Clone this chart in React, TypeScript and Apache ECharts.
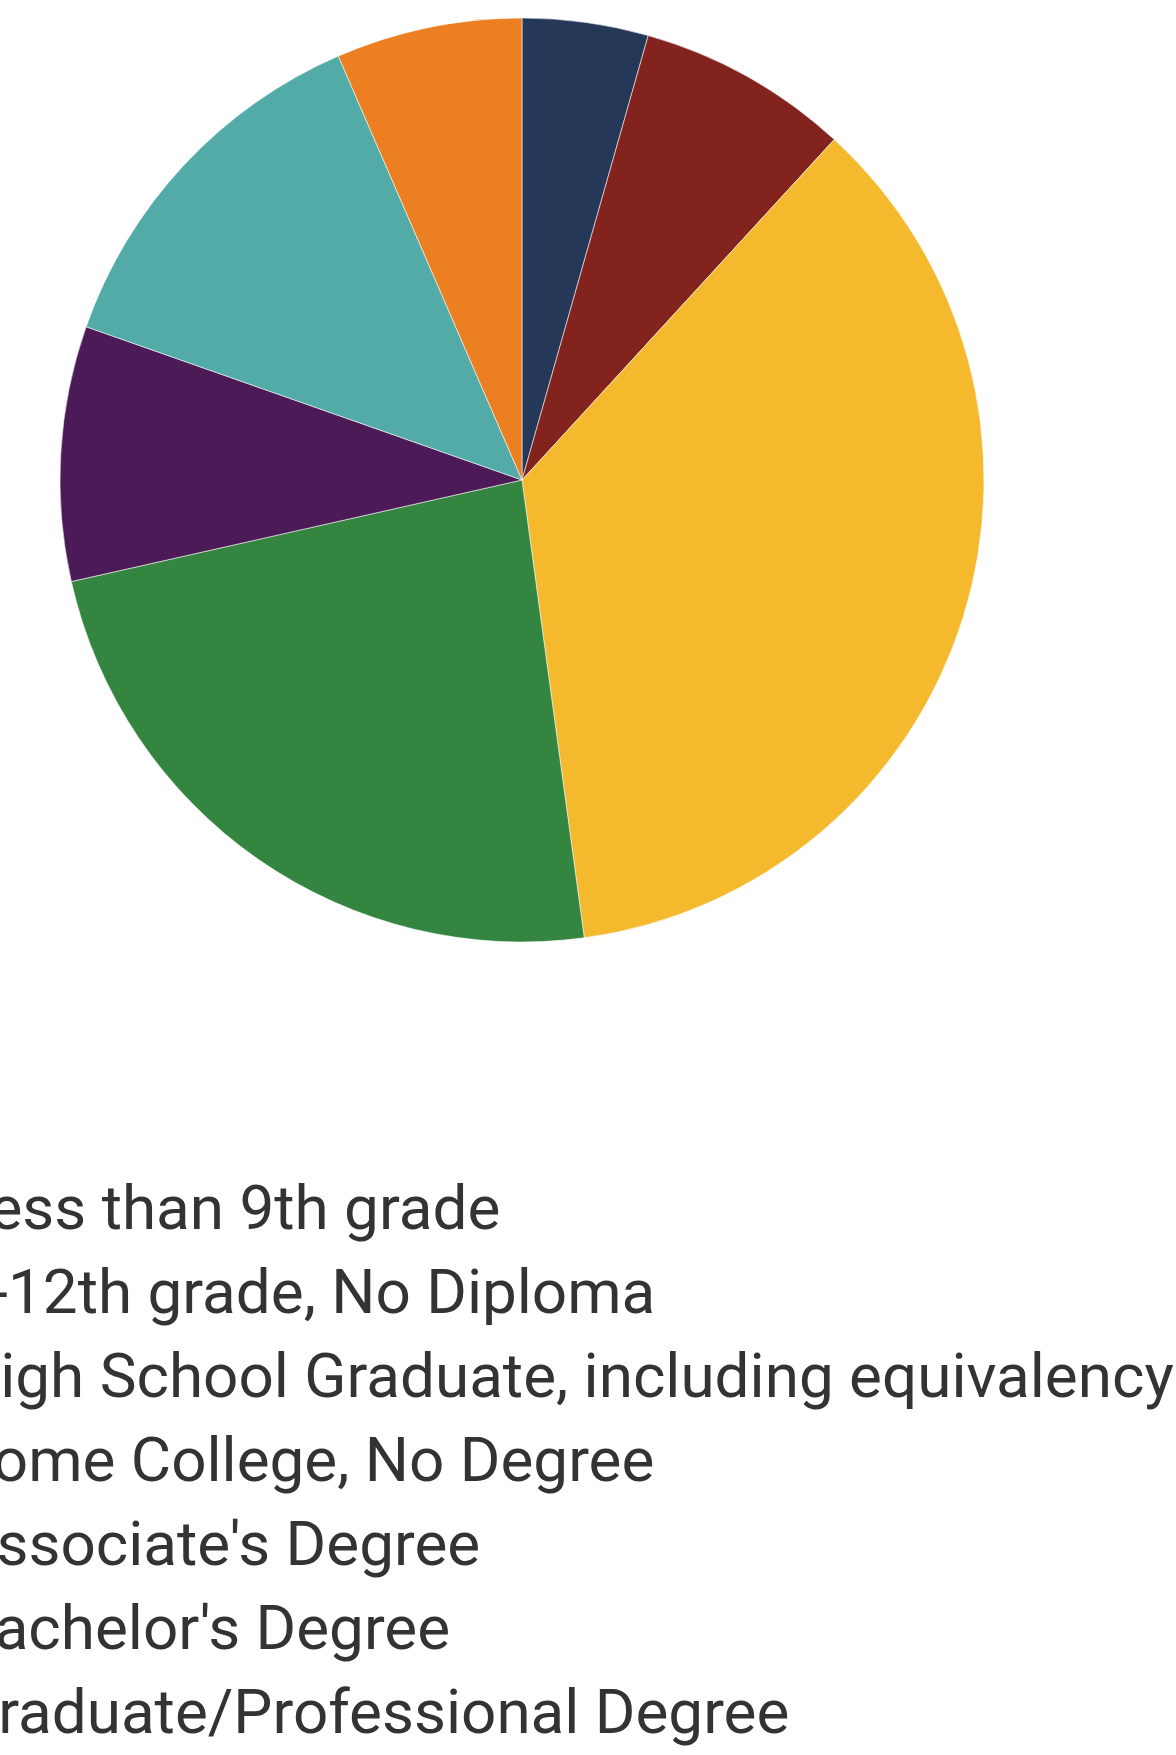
import React, { useEffect, useRef } from "react";
import * as echarts from "echarts";

const categories = [
  "Less than 9th grade",
  "9-12th grade, No Diploma",
  "High School Graduate, including equivalency",
  "Some College, No Degree",
  "Associate's Degree",
  "Bachelor's Degree",
  "Graduate/Professional Degree",
];
const shares = [4.4, 7.4, 36.0, 23.6, 8.9, 13.1, 6.5];
const colors = ["#263858", "#83231e", "#f4b92c", "#338540", "#4b1a57", "#52aba7", "#ec7f22"];

const OFFSET = 200;

export default function App() {
  const ref = useRef<HTMLDivElement>(null);
  useEffect(() => {
    if (!ref.current) return;
    const chart = echarts.init(ref.current, undefined, { renderer: "svg" });
    chart.setOption({
      animation: false,
      color: colors,
      legend: {
        orient: "vertical",
        left: OFFSET - 80,
        top: 1160,
        height: 700,
        width: 1300,
        itemGap: 0,
        itemWidth: 25,
        itemHeight: 14,
        icon: "rect",
        data: categories,
        textStyle: {
          fontFamily: "Roboto",
          fontSize: 62,
          lineHeight: 84,
          color: "#333333",
        },
        selectedMode: false,
      },
      series: [
        {
          type: "pie",
          center: [OFFSET + 522, 480],
          radius: 462,
          startAngle: 90,
          clockwise: true,
          silent: true,
          label: { show: false },
          labelLine: { show: false },
          itemStyle: { borderColor: "rgba(255,255,255,0.7)", borderWidth: 0.8 },
          data: categories.map((name, i) => ({ name, value: shares[i] })),
        },
      ],
    });
    return () => chart.dispose();
  }, []);
  return (
    <div
      ref={ref}
      style={{ position: "absolute", left: -OFFSET, top: 0, width: 1176 + OFFSET, height: 1755 }}
    />
  );
}
